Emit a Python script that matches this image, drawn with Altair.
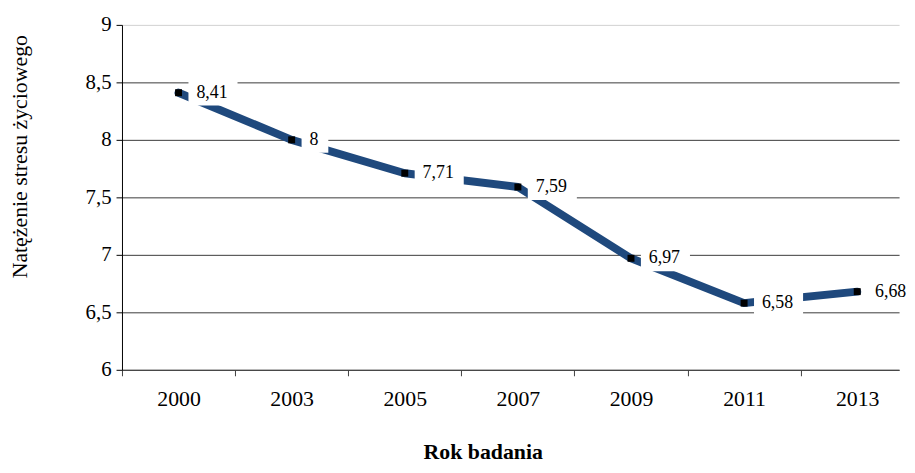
import altair as alt
import pandas as pd

# ---- data ----
years = ["2000", "2003", "2005", "2007", "2009", "2011", "2013"]
values = [8.41, 8.00, 7.71, 7.59, 6.97, 6.58, 6.68]
y_ticks = [6, 6.5, 7, 7.5, 8, 8.5, 9]

# ---- layout ----
W, H = 784, 348
x_lo, x_hi = -0.5, 6.37
step = W / (x_hi - x_lo)

FONT = "Liberation Serif"
LABEL_SIZE = 18
LINE_COLOR = "#1F497D"


def text_width(s):
    # Times-like metrics: digits 0.5em, comma 0.25em
    return sum((0.25 if c == "," else 0.5) * LABEL_SIZE for c in s)


labels = [f"{v:g}".replace(".", ",") for v in values]
df = pd.DataFrame({
    "idx": list(range(len(years))),
    "year": years,
    "value": values,
    "label": labels,
})
df["box_end"] = df["idx"] + [(text_width(s) + 18) / step for s in labels]

year_expr = "[" + ",".join(f"'{y}'" for y in years) + "][datum.value]"

x_enc = alt.X(
    "idx:Q",
    scale=alt.Scale(domain=[x_lo, x_hi], nice=False, zero=False),
    axis=alt.Axis(
        values=list(range(len(years))),
        labelExpr=year_expr,
        tickOffset=-step / 2,
        labelOffset=step / 2,
        ticks=True,
        tickSize=6,
        tickColor="#404040",
        domainColor="#404040",
        grid=False,
        labelFont=FONT,
        labelFontSize=22,
        labelColor="black",
        labelPadding=13,
        labelFlush=False,
        labelOverlap=False,
        title="Rok badania",
        titleFont=FONT,
        titleFontSize=22,
        titleFontWeight="bold",
        titleColor="black",
        titleX=364,
        titleY=82,
        titleAlign="center",
        titleBaseline="middle",
    ),
)

y_enc = alt.Y(
    "value:Q",
    scale=alt.Scale(domain=[6, 9], nice=False, zero=False),
    axis=alt.Axis(
        values=y_ticks,
        labelExpr="replace(toString(datum.value), '.', ',')",
        tickSize=6,
        tickColor="black",
        domainColor="black",
        grid=True,
        gridColor={"condition": {"test": "datum.value === 9", "value": "#d0d0d0"}, "value": "#3a3a3a"},
        gridWidth=1,
        labelFont=FONT,
        labelFontSize=21,
        labelColor="black",
        labelPadding=5,
        title="Natężenie stresu życiowego",
        titleFont=FONT,
        titleFontSize=22,
        titleFontWeight="normal",
        titleColor="black",
        titleX=-103,
        titleY=132.5,
        titleAngle=270,
        titleAlign="center",
        titleBaseline="middle",
    ),
)

base = alt.Chart(df)

line = base.mark_line(color=LINE_COLOR, strokeWidth=8, strokeCap="round", strokeJoin="round").encode(
    x=x_enc, y=y_enc
)

boxes = base.mark_rect(color="white", xOffset=10, x2Offset=10, yOffset=-13, y2Offset=13).encode(
    x=x_enc, x2="box_end:Q", y=y_enc, y2="value:Q"
)

text = base.mark_text(align="left", baseline="middle", dx=18, font=FONT, fontSize=LABEL_SIZE, color="black").encode(
    x=x_enc, y=y_enc, text="label:N"
)

points = base.mark_square(size=49, color="black", opacity=1).encode(x=x_enc, y=y_enc)

chart = (
    alt.layer(line, boxes, text, points)
    .properties(
        width=W,
        height=H,
        autosize=alt.AutoSizeParams(type="none"),
        padding={"left": 115, "top": 15, "right": 8, "bottom": 94},
        background="white",
    )
    .configure_view(stroke=None)
)

chart.save("out.html", embed_options={"renderer": "svg", "actions": False})
